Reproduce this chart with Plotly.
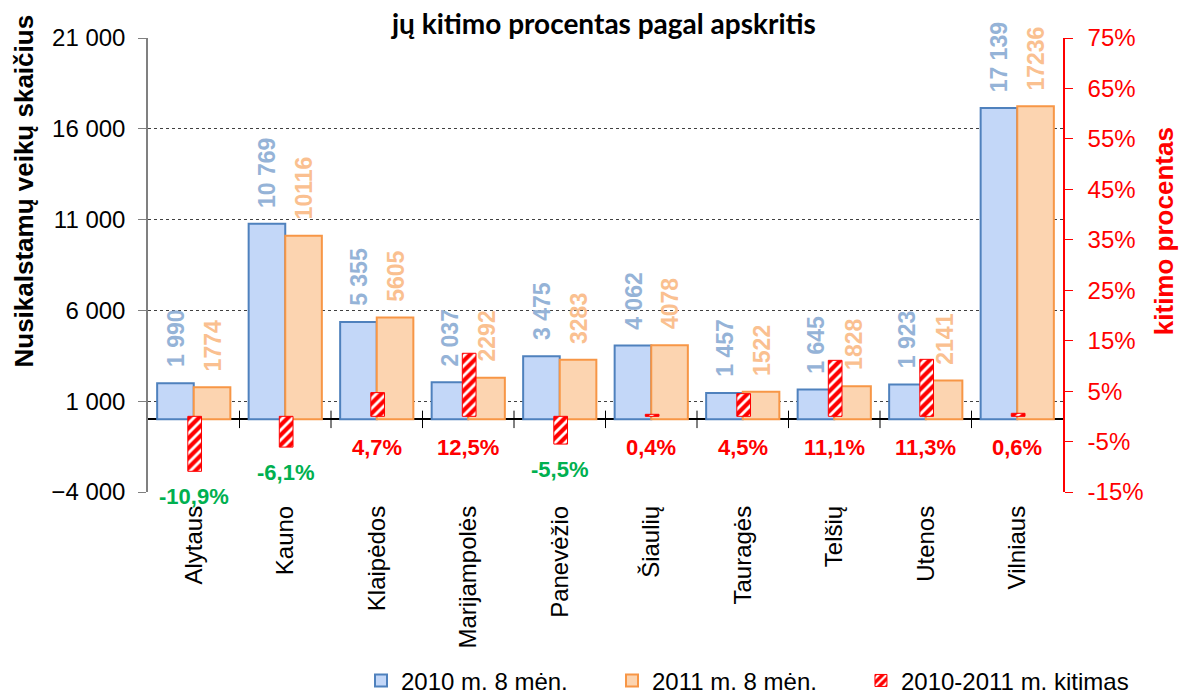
import plotly.graph_objects as go

categories = ["Alytaus", "Kauno", "Klaipėdos", "Marijampolės", "Panevėžio",
              "Šiaulių", "Tauragės", "Telšių", "Utenos", "Vilniaus"]
values_2010 = [1990, 10769, 5355, 2037, 3475, 4062, 1457, 1645, 1923, 17139]
values_2011 = [1774, 10116, 5605, 2292, 3283, 4078, 1522, 1828, 2141, 17236]
change_pct = [-10.9, -6.1, 4.7, 12.5, -5.5, 0.4, 4.5, 11.1, 11.3, 0.6]
left_ticks = [-4000, 1000, 6000, 11000, 16000, 21000]
right_ticks = [-15, -5, 5, 15, 25, 35, 45, 55, 65, 75]

name_2010 = "2010 m. 8 mėn."
name_2011 = "2011 m. 8 mėn."
name_chg = "2010-2011 m. kitimas"

ARIAL = "Liberation Sans, Arial, sans-serif"
NARROW = "Liberation Sans Narrow, Arial Narrow, Liberation Sans, sans-serif"

fig = go.Figure()
fig.add_trace(go.Bar(
    x=categories, y=values_2010, name=name_2010, legend="legend",
    width=0.4, offset=-0.4,
    marker=dict(color="#c3d7f8", line=dict(color="#4f81bd", width=2)),
))
fig.add_trace(go.Bar(
    x=categories, y=values_2011, name=name_2011, legend="legend2",
    width=0.4, offset=0.0,
    marker=dict(color="#fcd4b0", line=dict(color="#f79646", width=2)),
))
fig.add_trace(go.Bar(
    x=categories, y=change_pct, name=name_chg, yaxis="y2", legend="legend3",
    width=0.15, offset=-0.065,
    marker=dict(color="#ff0000", line=dict(color="#ff0000", width=1),
                pattern=dict(shape="/", fgcolor="#ffffff", bgcolor="#ff0000",
                             size=7, solidity=0.4, fillmode="replace")),
))

annotations = []
for c, v in zip(categories, values_2010):
    annotations.append(dict(
        x=c, y=v, xref="x", yref="y", xshift=-18, yshift=14,
        text=f"{v:,}".replace(",", " "), textangle=-90, showarrow=False,
        xanchor="center", yanchor="bottom",
        font=dict(family=ARIAL, size=23, color="#95b3d7", weight="bold")))
for c, v in zip(categories, values_2011):
    annotations.append(dict(
        x=c, y=v, xref="x", yref="y", xshift=19, yshift=14,
        text=str(v), textangle=-90, showarrow=False,
        xanchor="center", yanchor="bottom",
        font=dict(family=ARIAL, size=23, color="#fac090", weight="bold")))
for c, v in zip(categories, change_pct):
    txt = f"{v:.1f}".replace(".", ",") + "%"
    if v < 0:
        annotations.append(dict(
            x=c, y=v, xref="x", yref="y2", yshift=-11,
            text=txt, showarrow=False, xanchor="center", yanchor="top",
            font=dict(family=NARROW, size=22, color="#00b050", weight="bold")))
    else:
        annotations.append(dict(
            x=c, y=-6.1, xref="x", yref="y2",
            text=txt, showarrow=False, xanchor="center", yanchor="middle",
            font=dict(family=NARROW, size=22, color="#ff0000", weight="bold")))

# titles
annotations.append(dict(
    x=0.497, y=1.033, xref="paper", yref="paper", showarrow=False,
    text="jų kitimo procentas pagal apskritis", xanchor="center", yanchor="middle",
    font=dict(family="Lato, Open Sans, sans-serif", size=28, color="#000000", weight="bold")))
annotations.append(dict(
    x=-0.1366, y=0.2687, xref="paper", yref="paper", showarrow=False,
    text="Nusikalstamų veikų skaičius", textangle=-90, xanchor="center", yanchor="bottom",
    font=dict(family=ARIAL, size=26, color="#000000", weight="bold")))
annotations.append(dict(
    x=1.1104, y=0.341, xref="paper", yref="paper", showarrow=False,
    text="kitimo procentas", textangle=-90, xanchor="center", yanchor="bottom",
    font=dict(family=ARIAL, size=26, color="#ff0000", weight="bold")))

# cross tick marks on the category (zero) line
shapes = []
for i in range(1, len(categories)):
    shapes.append(dict(type="line", xref="x", yref="y", x0=i - 0.5, x1=i - 0.5,
                       y0=-480, y1=480, line=dict(color="#000000", width=1)))

legend_common = dict(orientation="h", xanchor="left", y=-0.416, yanchor="middle",
                     font=dict(family=ARIAL, size=24, color="#000000"),
                     itemwidth=30, bgcolor="rgba(0,0,0,0)")

fig.update_layout(
    width=1187, height=693,
    margin=dict(l=140, r=132, t=30, b=209, autoexpand=False),
    paper_bgcolor="#ffffff", plot_bgcolor="#ffffff",
    barmode="overlay",
    separators=", ",
    showlegend=True,
    legend=dict(x=0.2328, **legend_common),
    legend2=dict(x=0.5071, **legend_common),
    legend3=dict(x=0.7792, **legend_common),
    xaxis=dict(type="category", categoryorder="array", categoryarray=categories,
               range=[-0.5, len(categories) - 0.5],
               tickangle=-90, ticks="", showline=False, showgrid=False,
               tickfont=dict(family=ARIAL, size=24, color="#000000"),
               ticklabelstandoff=8),
    yaxis=dict(range=[-4000, 21000], tickvals=left_ticks, tickformat=",d",
               showgrid=True, gridcolor="#404040", griddash="dot", gridwidth=1,
               zeroline=True, zerolinecolor="#000000", zerolinewidth=1.5,
               showline=True, linecolor="#808080", linewidth=1.5,
               ticks="outside", ticklen=8, tickcolor="#808080",
               tickfont=dict(family=ARIAL, size=24, color="#000000"),
               ticklabelstandoff=8),
    yaxis2=dict(overlaying="y", side="right", range=[-15, 75], tickvals=right_ticks,
                ticktext=[f"{t}%" for t in right_ticks],
                showgrid=False, zeroline=False,
                showline=True, linecolor="#ff0000", linewidth=1.5,
                ticks="outside", ticklen=8, tickcolor="#ff0000",
                tickfont=dict(family=ARIAL, size=24, color="#ff0000"),
                ticklabelstandoff=10),
    annotations=annotations,
    shapes=shapes,
)

fig.write_html("out.html")
